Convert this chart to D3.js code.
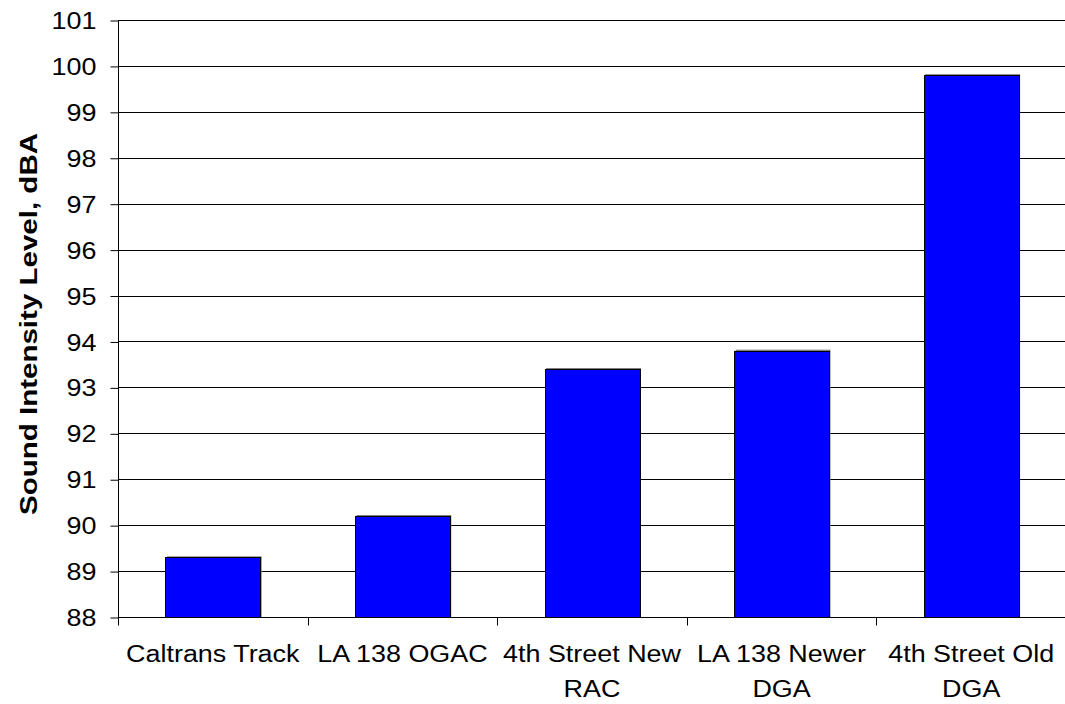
<!DOCTYPE html>
<html>
<head>
<meta charset="utf-8">
<script src="https://cdn.jsdelivr.net/npm/d3@7"></script>
<style>
  html, body { margin: 0; padding: 0; background: #fff; }
  svg { display: block; }
  text { font-family: Arial, "Liberation Sans", sans-serif; fill: #000; }
</style>
</head>
<body>
<svg id="chart" width="1065" height="704"></svg>
<script>
const categories = ["Caltrans Track", "LA 138 OGAC", "4th Street New RAC", "LA 138 Newer DGA", "4th Street Old DGA"];
const values = [89.3, 90.2, 93.4, 93.8, 99.8];
const yTicks = [88, 89, 90, 91, 92, 93, 94, 95, 96, 97, 98, 99, 100, 101];
const yTitle = "Sound Intensity Level, dBA";

const W = 1065, H = 704;
const m = { left: 118, right: -1, top: 20, bottom: 87 };
const SX = 1.17; // horizontal text stretch
const svg = d3.select("#chart");

const x = d3.scaleBand().domain(categories).range([m.left, W - m.right]).paddingInner(0.5).paddingOuter(0.25);
const xb = d3.scaleBand().domain(categories).range([m.left, W - m.right]);
const y = d3.scaleLinear().domain([88, 101]).range([H - m.bottom, m.top]);

// gridlines
svg.append("g").selectAll("line").data(yTicks.filter(d => d > 88)).join("line")
  .attr("x1", m.left).attr("x2", W)
  .attr("y1", d => Math.round(y(d)) + 0.5).attr("y2", d => Math.round(y(d)) + 0.5)
  .attr("stroke", "#000").attr("stroke-width", 1);

// bars: shadow then bar
const bars = svg.append("g");
bars.selectAll("rect.sh").data(values).join("rect").attr("class", "sh")
  .attr("x", (d, i) => x(categories[i]) + 1.5)
  .attr("y", d => y(d) - 1)
  .attr("width", x.bandwidth())
  .attr("height", d => y(88) - y(d) + 1)
  .attr("fill", "#808080");
bars.selectAll("rect.bar").data(values).join("rect").attr("class", "bar")
  .attr("x", (d, i) => Math.round(x(categories[i])) + 0.5)
  .attr("y", d => Math.round(y(d)) + 0.5)
  .attr("width", Math.round(x.bandwidth()))
  .attr("height", d => Math.round(y(88)) - Math.round(y(d)))
  .attr("fill", "#0000FF").attr("stroke", "#000").attr("stroke-width", 1);

// y axis
const yAxis = d3.axisLeft(y).tickValues(yTicks).tickSize(8).tickPadding(14).tickFormat(d3.format("d"));
const gy = svg.append("g").attr("transform", `translate(${m.left + 0.5},0.5)`).call(yAxis);
gy.select(".domain").attr("d", `M0,${m.top - 0.5}V${H - m.bottom + 8}`).attr("stroke", "#000");
gy.selectAll(".tick line").attr("stroke", "#000");
gy.selectAll("text").style("font-size", "23px").attr("dy", "0.35em")
  .attr("transform", `translate(-22,0) scale(${SX},1) translate(22,0)`);

// x axis
const gx = svg.append("g").attr("transform", `translate(0,${Math.round(y(88)) + 0.5})`);
gx.append("line").attr("x1", m.left).attr("x2", W).attr("stroke", "#000");
gx.selectAll("line.tk").data(categories.slice(1).concat(["__end"])).join("line").attr("class", "tk")
  .attr("x1", (d, i) => Math.round(m.left + (i + 1) * xb.step()) + 0.5)
  .attr("x2", (d, i) => Math.round(m.left + (i + 1) * xb.step()) + 0.5)
  .attr("y1", 0).attr("y2", 8).attr("stroke", "#000");

const labels = gx.selectAll("text.lbl").data(categories).join("text").attr("class", "lbl")
  .attr("x", d => x(d) + x.bandwidth() / 2)
  .attr("y", 45)
  .attr("text-anchor", "middle")
  .attr("transform", d => { const cx = x(d) + x.bandwidth() / 2; return `translate(${cx},0) scale(${SX},1) translate(${-cx},0)`; })
  .style("font-size", "23px");
labels.each(function(d) {
  const t = d3.select(this);
  const cx = x(d) + x.bandwidth() / 2;
  const words = d.split(" ");
  let line = [];
  let ts = t.append("tspan").attr("x", cx).attr("dy", 0);
  for (const w of words) {
    line.push(w);
    ts.text(line.join(" "));
    if (ts.node().getComputedTextLength() * SX > 185 && line.length > 1) {
      line.pop();
      ts.text(line.join(" "));
      line = [w];
      ts = t.append("tspan").attr("x", cx).attr("dy", 35).text(w);
    }
  }
});

// y title
svg.append("text")
  .attr("transform", `translate(37,324) rotate(-90) scale(1.23,1)`)
  .attr("text-anchor", "middle")
  .style("font-size", "24px").style("font-weight", "bold")
  .text(yTitle);
</script>
</body>
</html>
